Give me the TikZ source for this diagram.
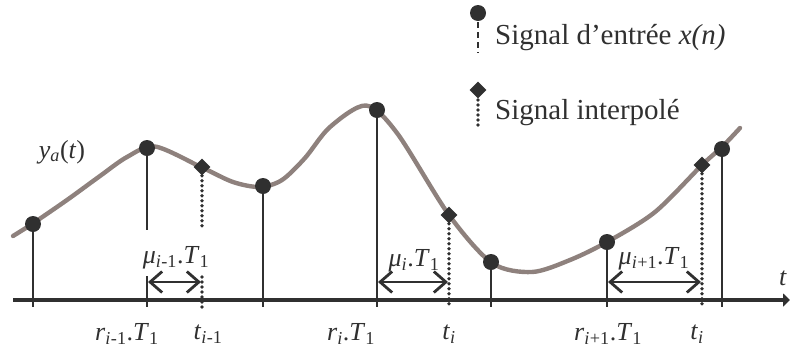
\documentclass[tikz,border=0pt]{standalone}
\usepackage{fontspec}
\setmainfont{Liberation Serif}
\usetikzlibrary{arrows.meta,shapes.geometric}
\definecolor{dk}{HTML}{303030}
\definecolor{crv}{HTML}{8E817D}
\tikzset{
  samp/.style={circle,fill=dk,inner sep=0pt,minimum size=16pt},
  interp/.style={diamond,fill=dk,inner sep=0pt,minimum size=17pt},
  stem/.style={draw=dk,line width=2.6pt},
  dotl/.style={draw=dk,line width=3.8pt,line cap=round,dash pattern=on 0pt off 5pt},
  dashl/.style={draw=dk,line width=2.8pt,dash pattern=on 6pt off 4pt},
  mu/.style={draw=dk,line width=2.8pt,{Straight Barb[length=12pt,width=21pt,line width=2.8pt]}-{Straight Barb[length=12pt,width=21pt,line width=2.8pt]}},
  lbl/.style={font=\fontsize{26}{28}\selectfont,inner sep=0pt,text=dk},
  leg/.style={font=\fontsize{29}{32}\selectfont,inner sep=0pt,anchor=west,text=dk},
}
\newcommand{\sbi}[1]{\textsubscript{\itshape #1}}
\begin{document}
\begin{tikzpicture}[x=1pt,y=-1pt]
\useasboundingbox (0,0) rectangle (790,349);
% curve
\draw[crv,line width=4.4pt,line cap=round] plot[smooth,tension=0.5] coordinates {(13,236) (32,224) (67,200) (100,176) (127,157) (155,146.5) (201,167) (233,182) (260,187) (282,180) (305,158) (330,127) (366,105.5) (397,133) (449,215) (492,263) (532,272) (570,260) (607,242) (655,212) (702,165) (722,147) (740,128)};
% axis
\coordinate (a0) at (13,300);
\coordinate (a1) at (790,300);
\draw[dk,line width=4.5pt,-{Triangle[length=7pt,width=13pt]}] (a0) -- (a1);
% samples
\node[samp] (s1) at (33,224) {};
\node[samp] (s2) at (147,148) {};
\node[samp] (s3) at (263,186) {};
\node[samp] (s4) at (377,110) {};
\node[samp] (s5) at (491,262) {};
\node[samp] (s6) at (607,242) {};
\node[samp] (s7) at (722,149) {};
\foreach \n/\x in {1/33,3/263,4/377,5/491,6/607,7/722}{
  \coordinate (b\n) at (\x,307);
  \draw[stem] (s\n.center) -- (b\n);
}
\coordinate (m2) at (147,230);
\coordinate (u2) at (147,276);
\coordinate (b2) at (147,307);
\draw[stem] (s2.center) -- (m2);
\draw[stem] (u2) -- (b2);
% interpolated
\node[interp] (d1) at (202,167) {};
\node[interp] (d2) at (449,215) {};
\node[interp] (d3) at (702,165) {};
\coordinate (dm1) at (202,230);
\coordinate (du1) at (202,277);
\coordinate (db1) at (202,308);
\coordinate (db2) at (449,308);
\coordinate (db3) at (702,308);
\draw[dotl] (d1.south) -- (dm1);
\draw[dotl] (du1) -- (db1);
\draw[dotl] (d2.south) -- (db2);
\draw[dotl] (d3.south) -- (db3);
% mu arrows
\coordinate (p1) at (148,282); \coordinate (q1) at (201,282);
\coordinate (p2) at (378,282); \coordinate (q2) at (448,282);
\coordinate (p3) at (608,282); \coordinate (q3) at (701,282);
\draw[mu] (p1) -- (q1);
\draw[mu] (p2) -- (q2);
\draw[mu] (p3) -- (q3);
\node[lbl] (mu1) at (176,258) {\textit{μ}\sbi{i}\textsubscript{-1}.\textit{T}\textsubscript{1}};
\node[lbl] (mu2) at (414,261) {\textit{μ}\sbi{i}.\textit{T}\textsubscript{1}};
\node[lbl] (mu3) at (654,259) {\textit{μ}\sbi{i}\textsubscript{+1}.\textit{T}\textsubscript{1}};
% axis labels
\node[lbl] (r1) at (127,334) {\textit{r}\sbi{i}\textsubscript{-1}.\textit{T}\textsubscript{1}};
\node[lbl] (t1) at (208,334) {\textit{t}\sbi{i}\textsubscript{-1}};
\node[lbl] (r2) at (351,334) {\textit{r}\sbi{i}.\textit{T}\textsubscript{1}};
\node[lbl] (t2) at (449,334) {\textit{t}\sbi{i}};
\node[lbl] (r3) at (608,334) {\textit{r}\sbi{i}\textsubscript{+1}.\textit{T}\textsubscript{1}};
\node[lbl] (t3) at (697,334) {\textit{t}\sbi{i}};
\node[lbl] (tt) at (783,278) {\textit{t}};
\node[lbl] (ya) at (62,152) {\textit{y}\sbi{a}(\textit{t})};
% legend
\node[samp] (ls) at (478,13) {};
\coordinate (lsa) at (478,22); \coordinate (lsb) at (478,53);
\draw[dashl] (lsa) -- (lsb);
\node[leg] (lt1) at (495,38) {Signal d’entrée \textit{x(n)}};
\node[interp] (ld) at (478,90) {};
\coordinate (lda) at (478,100); \coordinate (ldb) at (478,128);
\draw[dotl] (lda) -- (ldb);
\node[leg] (lt2) at (495,113) {Signal interpolé};
\end{tikzpicture}
\end{document}
